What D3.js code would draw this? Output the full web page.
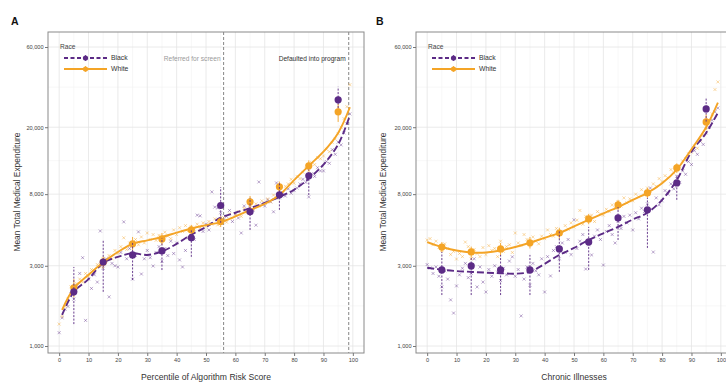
<!DOCTYPE html>
<html>
<head>
<meta charset="utf-8">
<script src="https://cdn.jsdelivr.net/npm/d3@7"></script>
<style>
  body { margin: 0; background: #fff; }
  svg { display: block; font-family: "Liberation Sans", Arial, sans-serif; }
</style>
</head>
<body>
<svg id="chart" width="726" height="383"></svg>
<script>
// percentiles for the small "x" marks
const pct = [0,1,2,3,4,5,6,7,8,9,10,11,12,13,14,15,16,17,18,19,20,21,22,23,24,25,26,27,28,29,
  30,31,32,33,34,35,36,37,38,39,40,41,42,43,44,45,46,47,48,49,50,51,52,53,54,55,56,57,58,59,
  60,61,62,63,64,65,66,67,68,69,70,71,72,73,74,75,76,77,78,79,80,81,82,83,84,85,86,87,88,89,
  90,91,92,93,94,95,96,97,98,99];
const deciles = [5, 15, 25, 35, 45, 55, 65, 75, 85, 95];

// Panel A: percentile of algorithm risk score
const riskWhiteMarks = [1350,1500,1720,1900,2250,2150,2350,2500,2400,2700,
  2600,2850,2800,3050,2950,3300,3200,3450,3300,3700,
  3550,3900,4400,3750,4100,3950,4300,4000,4450,4100,
  4700,4300,4600,4250,4550,4400,4750,4500,4350,4900,
  4600,5050,4800,5200,4850,5100,4950,5300,5050,5400,
  5150,5500,5300,5700,5250,5600,5800,5450,6100,5750,
  6000,6300,5900,6600,6200,6700,6500,7000,6800,7300,
  7100,7500,7200,7900,7600,8300,8100,8900,9200,9800,
  9300,10200,9900,10800,11400,11000,12300,12000,13200,13000,
  13500,14800,14300,16200,17000,18300,20000,22500,26500,35800];
const riskBlackMarks = [1200,1470,1650,1720,2050,1900,2300,2700,3350,1420,
  2500,2200,2650,2400,4830,2900,3300,1960,3100,3000,
  2950,3600,5470,3300,3800,2500,3450,4770,2680,3300,
  3700,3350,2990,3600,3900,3200,3800,3450,4200,3550,
  4100,3250,2950,3700,4400,4900,4300,6000,5940,4800,
  5300,4900,8250,6700,6620,6200,5600,5900,6400,5500,
  6100,5770,4700,6800,6300,6900,6400,5230,9450,7000,
  6800,7400,7200,6280,9330,7600,8200,7800,8600,8100,
  8400,8700,9200,9800,9400,7700,10600,10200,11500,11000,
  11000,12500,12200,14700,13800,16300,15700,18500,21000,24000];
const riskWhiteMean = [2220, 3150, 4050, 4335, 4900, 5500, 7200, 8840, 11790, 24700];
const riskWhiteLo   = [1950, 2900, 3700, 4000, 4600, 5100, 6600, 8200, 11000, 21500];
const riskWhiteHi   = [2500, 3400, 4450, 4700, 5250, 5900, 7800, 9500, 12700, 27500];
const riskBlackMean = [2100, 3160, 3480, 3675, 4400, 6850, 6280, 7925, 10280, 29100];
const riskBlackLo   = [1350, 2100, 2470, 2830, 3390, 5400, 4900, 6450, 7900, 26000];
const riskBlackHi   = [2950, 4270, 4100, 4390, 4900, 8800, 7600, 9300, 11200, 34800];
const riskSmoothPct = [1,5,10,15,20,25,30,35,40,45,50,55,60,65,70,75,80,85,90,95,99];
const riskWhiteSmooth = [1640,2200,2650,3150,3620,4050,4250,4450,4720,5000,5230,5450,5900,6440,7000,7900,9700,11800,14300,18500,26300];
const riskBlackSmooth = [1530,2100,2500,3120,3390,3560,3480,3650,4050,4600,5100,5800,6200,6600,7100,7700,8500,9900,12000,15800,23500];
const thresholds = [56, 98.6];

// Panel B: number of chronic illnesses (percentile)
const illWhiteMarks = [4270,4350,4000,4200,3850,3700,4050,3800,3500,3650,
  3290,3550,3400,4150,3900,3300,3750,3550,3400,3850,
  3500,3950,3700,3800,3400,4200,3650,3900,4000,3600,
  4700,4100,3950,4600,4300,4000,4450,4200,4050,4500,
  4350,4900,4600,4500,5000,4700,4800,5200,4950,5400,
  5100,5600,6400,5300,5900,5700,6000,5500,6300,6100,
  6000,6500,6300,6900,6600,7200,6800,7600,7100,7500,
  7300,8000,7700,8500,7900,8700,8300,9200,8900,9900,
  9500,10300,10000,11200,10700,11800,11400,12600,13000,13900,
  14200,15500,15000,16800,18000,19500,21000,24000,33500,37200];
const illBlackMarks = [3050,2910,2700,2950,2600,2250,2800,2500,1880,1570,
  2277,2650,2900,3100,2550,2700,3300,2245,2950,2400,
  2095,2850,2600,3000,2750,2450,2900,2650,3200,3390,
  2600,2850,1510,2500,2950,2300,3100,2800,2650,3300,
  2095,3400,2610,3700,3900,3300,4100,3600,4300,3500,
  5630,3800,4200,4600,2870,4000,3480,4500,4900,4300,
  3030,4800,5200,4600,4100,5500,5000,5900,5400,6000,
  4900,6200,5700,6600,6300,7000,8700,3620,7600,6900,
  7300,8400,8000,9200,8600,10200,9400,11000,10500,12500,
  12000,14500,13800,16500,15800,18500,20000,22000,24700,26000];
const illWhiteMean = [3880, 3625, 3780, 4110, 4700, 5700, 6900, 8140, 11450, 21500];
const illWhiteLo   = [3600, 3350, 3450, 3800, 4350, 5300, 6450, 7600, 10700, 19500];
const illWhiteHi   = [4150, 3900, 4100, 4450, 5050, 6100, 7400, 8700, 12200, 23800];
const illBlackMean = [2834, 2995, 2834, 2834, 3780, 4160, 5780, 6450, 9330, 25700];
const illBlackLo   = [2010, 2010, 2010, 2010, 2760, 2834, 4270, 3830, 7400, 21600];
const illBlackHi   = [3620, 3340, 3480, 3480, 4900, 5110, 6700, 7600, 10400, 29900];
const illSmoothPct = [0,5,10,15,20,25,30,35,40,45,50,55,60,65,70,75,80,85,90,95,99];
const illWhiteSmooth = [4150,3880,3700,3600,3600,3700,3880,4110,4400,4700,5150,5630,6150,6700,7400,8140,9300,11200,14800,20000,28000];
const illBlackSmooth = [2920,2840,2790,2760,2730,2710,2690,2760,3080,3480,3830,4270,4680,5110,5650,6200,7400,9700,14300,18500,24400];

// axis ticks
const xTicks = [0,10,20,30,40,50,60,70,80,90,100];
const xMinor = [5,15,25,35,45,55,65,75,85,95];
const yTicks = [1000, 3000, 8000, 20000, 60000];
const yMinor = [1732, 4899, 12649, 34641];

const purple = "#5c2b86", orange = "#f4a426";
const svg = d3.select("#chart");

function drawPanel(p) {
  const top = 32, bottom = 353, left = p.left, right = p.left + 316;
  const x = d3.scaleLinear().domain([-3.8, 103.8]).range([left, right]);
  const y = d3.scaleLog().domain([1000, 60000]).range([346, 47]);
  const g = svg.append("g");

  g.append("clipPath").attr("id", p.id + "-clip")
    .append("rect").attr("x", left).attr("y", top)
    .attr("width", right - left).attr("height", bottom - top);

  g.append("rect").attr("x", left).attr("y", top)
    .attr("width", right - left).attr("height", bottom - top).attr("fill", "#fff");

  // grid
  const grid = g.append("g").attr("clip-path", `url(#${p.id}-clip)`);
  grid.selectAll(".vmin").data(xMinor).join("line")
    .attr("x1", d => x(d)).attr("x2", d => x(d)).attr("y1", top).attr("y2", bottom)
    .attr("stroke", "#f1f1f1").attr("stroke-width", 0.6);
  grid.selectAll(".hmin").data(yMinor).join("line")
    .attr("y1", d => y(d)).attr("y2", d => y(d)).attr("x1", left).attr("x2", right)
    .attr("stroke", "#f1f1f1").attr("stroke-width", 0.6);
  grid.selectAll(".vmaj").data(xTicks).join("line")
    .attr("x1", d => x(d)).attr("x2", d => x(d)).attr("y1", top).attr("y2", bottom)
    .attr("stroke", "#e4e4e4").attr("stroke-width", 0.8);
  grid.selectAll(".hmaj").data(yTicks).join("line")
    .attr("y1", d => y(d)).attr("y2", d => y(d)).attr("x1", left).attr("x2", right)
    .attr("stroke", "#e4e4e4").attr("stroke-width", 0.8);

  const plot = g.append("g").attr("clip-path", `url(#${p.id}-clip)`);

  // threshold lines + labels (panel A only)
  if (p.thresholds) {
    plot.selectAll(".thr").data(p.thresholds).join("line")
      .attr("x1", d => x(d)).attr("x2", d => x(d)).attr("y1", top).attr("y2", bottom)
      .attr("stroke", "#777").attr("stroke-width", 0.9).attr("stroke-dasharray", "3,2");
    g.append("text").attr("x", x(p.thresholds[0]) - 3).attr("y", 61)
      .attr("text-anchor", "end").attr("font-size", 6.6).attr("fill", "#9a9a9a")
      .text("Referred for screen");
    g.append("text").attr("x", x(p.thresholds[1]) - 3).attr("y", 61)
      .attr("text-anchor", "end").attr("font-size", 6.6).attr("fill", "#333")
      .text("Defaulted into program");
  }

  // small x marks
  const cross = (sel, data, color) => {
    sel.selectAll(null).data(data).join("path")
      .attr("d", (d, i) => {
        const cx = x(pct[i]), cy = y(d), s = 1.5;
        return `M${cx - s},${cy - s}L${cx + s},${cy + s}M${cx - s},${cy + s}L${cx + s},${cy - s}`;
      })
      .attr("stroke", color).attr("stroke-width", 0.7).attr("opacity", 0.6).attr("fill", "none");
  };
  cross(plot.append("g"), p.blackMarks, purple);
  cross(plot.append("g"), p.whiteMarks, orange);

  // smoothed lines
  const line = d3.line().curve(d3.curveCatmullRom.alpha(0.5))
    .x(d => x(d[0])).y(d => y(d[1]));
  plot.append("path")
    .datum(p.smoothPct.map((v, i) => [v, p.blackSmooth[i]]))
    .attr("d", line).attr("fill", "none").attr("stroke", purple)
    .attr("stroke-width", 1.9).attr("stroke-dasharray", "7,3");
  plot.append("path")
    .datum(p.smoothPct.map((v, i) => [v, p.whiteSmooth[i]]))
    .attr("d", line).attr("fill", "none").attr("stroke", orange)
    .attr("stroke-width", 1.9);

  // error bars + decile means
  const bars = (data, lo, hi, color, dash) => {
    plot.append("g").selectAll("line").data(data).join("line")
      .attr("x1", (d, i) => x(deciles[i])).attr("x2", (d, i) => x(deciles[i]))
      .attr("y1", (d, i) => y(lo[i])).attr("y2", (d, i) => y(hi[i]))
      .attr("stroke", color).attr("stroke-width", 0.9)
      .attr("stroke-dasharray", dash);
    plot.append("g").selectAll("circle").data(data).join("circle")
      .attr("cx", (d, i) => x(deciles[i])).attr("cy", d => y(d))
      .attr("r", 3.6).attr("fill", color);
  };
  bars(p.whiteMean, p.whiteLo, p.whiteHi, orange, null);
  bars(p.blackMean, p.blackLo, p.blackHi, purple, "2,1.5");

  // panel border
  g.append("rect").attr("x", left).attr("y", top)
    .attr("width", right - left).attr("height", bottom - top)
    .attr("fill", "none").attr("stroke", "#8a8a8a").attr("stroke-width", 1);

  // axes
  const yAxis = g.append("g").attr("transform", `translate(${left},0)`)
    .call(d3.axisLeft(y).tickValues(yTicks).tickFormat(d3.format(",")).tickSize(3).tickPadding(1.5));
  const xAxis = g.append("g").attr("transform", `translate(0,${bottom})`)
    .call(d3.axisBottom(x).tickValues(xTicks).tickSize(3).tickPadding(2));
  [yAxis, xAxis].forEach(a => {
    a.select(".domain").remove();
    a.selectAll("line").attr("stroke", "#777");
    a.selectAll("text").attr("font-size", 5.6).attr("fill", "#444")
      .attr("font-family", "Liberation Sans, Arial, sans-serif");
  });

  // titles
  g.append("text").attr("x", (x(0) + x(100)) / 2).attr("y", 380)
    .attr("text-anchor", "middle").attr("font-size", 8.6).attr("fill", "#333")
    .text(p.xTitle);
  g.append("text").attr("transform", `translate(${p.yTitleX},192) rotate(-90)`)
    .attr("text-anchor", "middle").attr("font-size", 8.4).attr("fill", "#333")
    .text("Mean Total Medical Expenditure");
  g.append("text").attr("x", p.letterX).attr("y", 25)
    .attr("font-size", 10.5).attr("font-weight", "bold").attr("fill", "#111")
    .text(p.letter);

  // legend
  const lg = g.append("g");
  lg.append("text").attr("x", left + 12).attr("y", 49)
    .attr("font-size", 6.6).attr("fill", "#444").text("Race");
  const keys = [
    { label: "Black", color: purple, dash: "4,2.5", y: 58 },
    { label: "White", color: orange, dash: null, y: 69 }
  ];
  keys.forEach(k => {
    lg.append("line").attr("x1", left + 16).attr("x2", left + 59)
      .attr("y1", k.y).attr("y2", k.y).attr("stroke", k.color)
      .attr("stroke-width", 1.8).attr("stroke-dasharray", k.dash);
    lg.append("line").attr("x1", left + 37.5).attr("x2", left + 37.5)
      .attr("y1", k.y - 3).attr("y2", k.y + 3).attr("stroke", k.color).attr("stroke-width", 0.8);
    lg.append("circle").attr("cx", left + 37.5).attr("cy", k.y).attr("r", 2.6).attr("fill", k.color);
    lg.append("text").attr("x", left + 63).attr("y", k.y + 2.3)
      .attr("font-size", 6.8).attr("fill", "#333").text(k.label);
  });
}

drawPanel({
  id: "a", left: 48, letter: "A", letterX: 11, yTitleX: 20,
  xTitle: "Percentile of Algorithm Risk Score",
  whiteMarks: riskWhiteMarks, blackMarks: riskBlackMarks,
  whiteMean: riskWhiteMean, whiteLo: riskWhiteLo, whiteHi: riskWhiteHi,
  blackMean: riskBlackMean, blackLo: riskBlackLo, blackHi: riskBlackHi,
  smoothPct: riskSmoothPct, whiteSmooth: riskWhiteSmooth, blackSmooth: riskBlackSmooth,
  thresholds: thresholds
});

drawPanel({
  id: "b", left: 416, letter: "B", letterX: 376, yTitleX: 386,
  xTitle: "Chronic Illnesses",
  whiteMarks: illWhiteMarks, blackMarks: illBlackMarks,
  whiteMean: illWhiteMean, whiteLo: illWhiteLo, whiteHi: illWhiteHi,
  blackMean: illBlackMean, blackLo: illBlackLo, blackHi: illBlackHi,
  smoothPct: illSmoothPct, whiteSmooth: illWhiteSmooth, blackSmooth: illBlackSmooth,
  thresholds: null
});
</script>
</body>
</html>
